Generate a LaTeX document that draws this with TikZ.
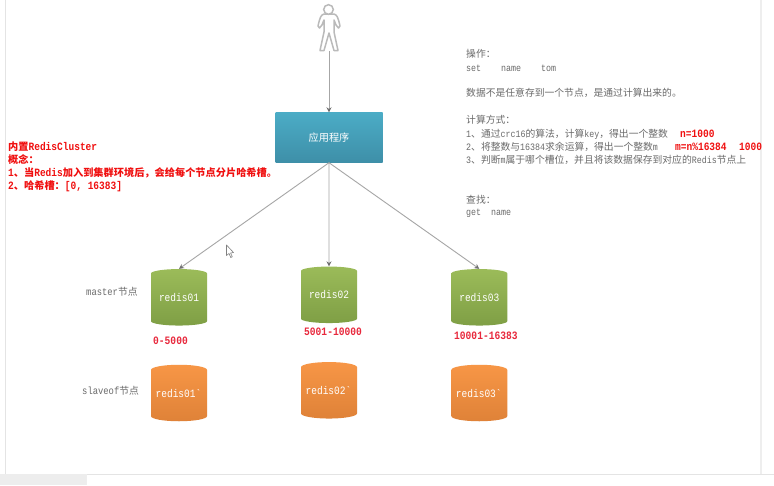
\documentclass[tikz,border=0pt]{standalone}
\usepackage{fontspec}
\setmainfont[FakeStretch=0.85]{Liberation Mono}
\newfontfamily\cjk{Noto Sans CJK SC}
\usetikzlibrary{shapes.geometric,arrows.meta}
\definecolor{txtgray}{HTML}{6A6A6A}
\definecolor{hot}{HTML}{F01010}
\definecolor{rangered}{HTML}{E8283C}
\definecolor{wire}{HTML}{A6A6A6}
\definecolor{wiretip}{HTML}{707070}
\definecolor{frameline}{HTML}{E4E4E4}
\definecolor{framesoft}{HTML}{EEEEEE}
\definecolor{dbgreenA}{HTML}{9BBB59}
\definecolor{dbgreenB}{HTML}{7F9F45}
\definecolor{dborangeA}{HTML}{F79646}
\definecolor{dborangeB}{HTML}{DF8238}
\definecolor{appA}{HTML}{4BACC6}
\definecolor{appB}{HTML}{3E8FA8}
\newcommand{\zhsz}{10}
\newcommand{\zh}[1]{{\fontsize{\zhsz}{12}\cjk #1}}
\newcommand{\dbtext}[1]{\raisebox{4.5pt}{#1}}
\tikzset{
  x=1pt,y=-1pt,
  wire/.style={draw=wire,line width=0.9pt,-{Stealth[length=5pt,width=5pt,color=wiretip]}},
  note/.style={anchor=west,inner sep=0pt,text=txtgray,font=\renewcommand{\zhsz}{9.8}\fontsize{9.8}{12}\selectfont},
  rednote/.style={anchor=west,inner sep=0pt,text=hot,font=\renewcommand{\zhsz}{10.2}\fontsize{11.2}{12}\selectfont\bfseries},
  redcalc/.style={anchor=west,inner sep=0pt,text=hot,font=\fontsize{11.2}{12}\selectfont\bfseries},
  rangelabel/.style={anchor=west,inner sep=0pt,text=rangered,font=\fontsize{11.3}{12}\selectfont\bfseries},
  sidelabel/.style={anchor=west,inner sep=0pt,text=txtgray,font=\renewcommand{\zhsz}{9.8}\fontsize{10.4}{12}\selectfont},
  db/.style={cylinder,shape border rotate=90,aspect=0.22,minimum width=56pt,minimum height=56.5pt,inner sep=0pt,anchor=shape center,text=white,font=\fontsize{11.2}{12}\selectfont},
  greendb/.style={db,top color=dbgreenA,bottom color=dbgreenB},
  orangedb/.style={db,top color=dborangeA,bottom color=dborangeB},
  appbox/.style={rectangle,minimum width=107pt,minimum height=50pt,inner sep=0pt,top color=appA,bottom color=appB,text=white,font=\renewcommand{\zhsz}{10.2}\fontsize{10}{12}\selectfont},
}
\begin{document}
\begin{tikzpicture}
\useasboundingbox (0,0) rectangle (774,485);
\fill[white] (0,0) rectangle (774,485);
% window frame
\draw[frameline,line width=1.2pt] (5.5,0) -- (5.5,474);
\draw[framesoft,line width=2pt] (761,0) -- (761,474);
\fill[black!7] (0,474) rectangle (86,485);
\draw[frameline,line width=1pt] (86,474) -- (774,474);
\draw[framesoft,line width=1pt] (86,474) -- (86,485);
% person
\draw[black!27,fill=white,line width=1.5pt,line join=round]
  (324,14) -- (334,14) .. controls (337,15) and (338,17) .. (340,26)
  -- (338.5,28) -- (336,25) -- (334,20) -- (334,32)
  -- (338,50.5) -- (334,50.5) -- (329,33) -- (324,50.5) -- (320,50.5) -- (324,32)
  -- (324,20) -- (322,25) -- (319.5,28) -- (318,26)
  .. controls (320,17) and (321,15) .. (324,14) -- cycle;
\draw[black!27,fill=white,line width=1.5pt] (328.5,9.5) circle (4.8);
\coordinate (user) at (329,51);
% app
\node[appbox] (app) at (329,137.5) {\zh{应用程序}};
% databases
\node[greendb] (m1) at (179,297.3) {\dbtext{redis01}};
\node[greendb] (m2) at (329,294.8) {\dbtext{redis02}};
\node[greendb] (m3) at (479.3,297.3) {\dbtext{redis03}};
\node[orangedb] (s1) at (179,393) {\dbtext{redis01\textasciigrave}};
\node[orangedb] (s2) at (329,390.3) {\dbtext{redis02\textasciigrave}};
\node[orangedb] (s3) at (479.3,393) {\dbtext{redis03\textasciigrave}};
% connectors
\draw[wire] (user) -- (app.north);
\draw[wire] (app.south) -- (m1.90);
\draw[wire] (app.south) -- (m2.90);
\draw[wire] (app.south) -- (m3.90);
% cursor
\draw[black!50,fill=white,line width=0.6pt,line join=round]
  (226.5,245) -- (226.5,255.5) -- (229,253.5) -- (230.8,257.5) -- (232.3,256.8) -- (230.6,253) -- (233.5,252.5) -- cycle;
% side labels
\node[sidelabel] (lm) at (86,292) {master\zh{节点}};
\node[sidelabel] (ls) at (82,390.5) {slaveof\zh{节点}};
\node[rangelabel] (r1) at (153,341) {0-5000};
\node[rangelabel] (r2) at (304,332) {5001-10000};
\node[rangelabel] (r3) at (454,336) {10001-16383};
% left red notes
\node[rednote] (a1) at (8,147) {\zh{内置}RedisCluster};
\node[rednote] (a2) at (8,160) {\zh{概念：}};
\node[rednote] (a3) at (8,173) {1\zh{、当}Redis\zh{加入到集群环境后，会给每个节点分片哈希槽。}};
\node[rednote] (a4) at (8,186.5) {2\zh{、哈希槽：}[0, 16383]};
% right notes
\node[note] (b1) at (466,54) {\zh{操作：}};
\node[note] (b2) at (466,68) {set~~~~name~~~~tom};
\node[note] (b3) at (466,93) {\zh{数据不是任意存到一个节点，是通过计算出来的。}};
\node[note] (b4) at (466,120) {\zh{计算方式：}};
\node[note] (b5) at (466,134) {1\zh{、通过}crc16\zh{的算法，计算}key\zh{，得出一个整数}};
\node[redcalc] (b5r) at (680,134) {n=1000};
\node[note] (b6) at (466,147) {2\zh{、将整数与}16384\zh{求余运算，得出一个整数}m};
\node[redcalc] (b6r) at (675,147) {m=n\%16384};
\node[redcalc] (b6s) at (739,147) {1000};
\node[note] (b7) at (466,160) {3\zh{、判断}m\zh{属于哪个槽位，并且将该数据保存到对应的}Redis\zh{节点上}};
\node[note] (b8) at (466,200) {\zh{查找：}};
\node[note] (b9) at (466,213) {get~~name};
\end{tikzpicture}
\end{document}
